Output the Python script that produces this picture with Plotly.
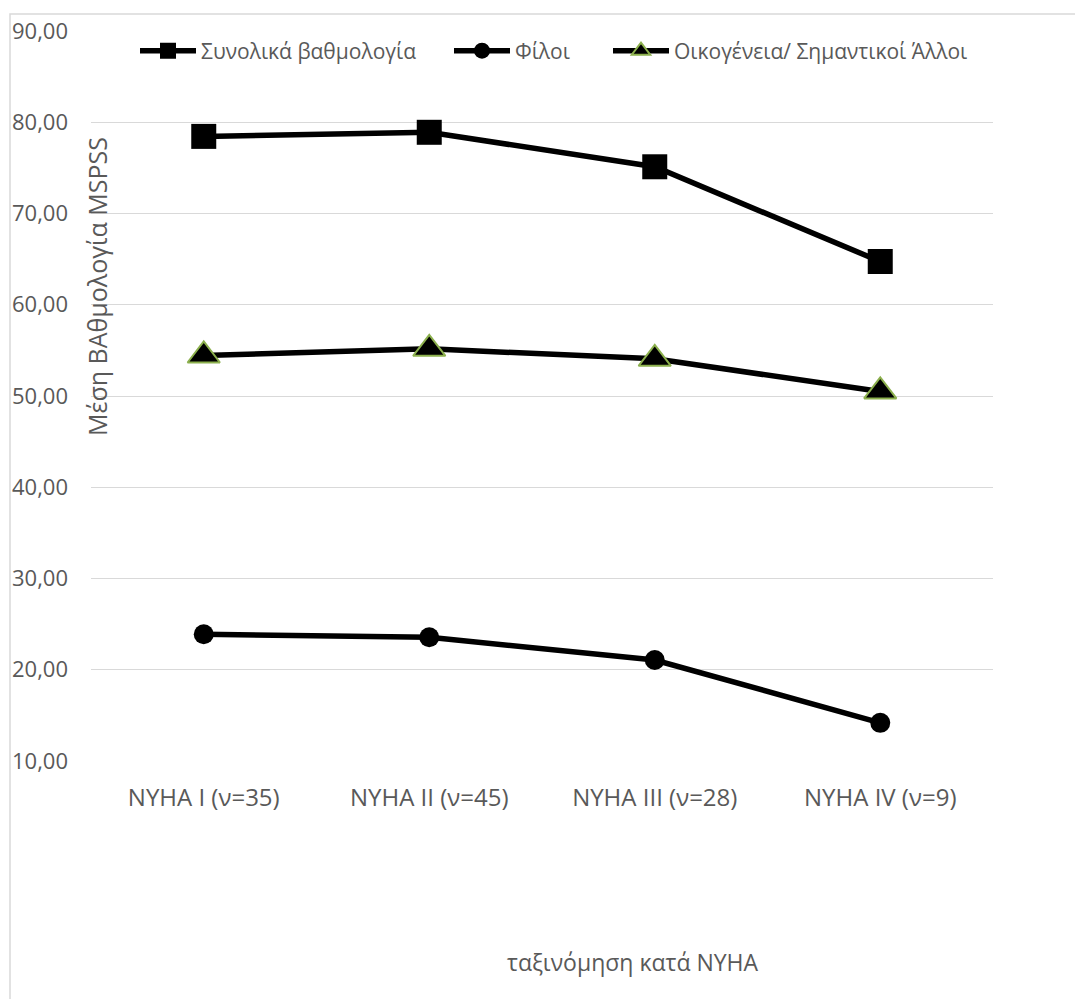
import plotly.graph_objects as go

categories = ["NYHA I (ν=35)", "NYHA II (ν=45)", "NYHA III (ν=28)", "NYHA IV (ν=9)"]
total_scores = [78.45, 78.90, 75.12, 64.74]
friends_scores = [23.89, 23.56, 21.07, 14.18]
family_scores = [54.44, 55.17, 54.08, 50.50]
series_names = ["Συνολικά βαθμολογία", "Φίλοι", "Οικογένεια/ Σημαντικοί Άλλοι"]
y_ticks = [10, 20, 30, 40, 50, 60, 70, 80, 90]

FONT = "Open Sans"
GRAY = "#595959"

L, R, T, B = 91, 82, 31, 238
W, H = 1075, 999
PW, PH = W - L - R, H - T - B

def px_x(px):
    return (px - L) / PW

def px_y(py):
    return (H - B - py) / PH

fig = go.Figure()
fig.add_trace(go.Scatter(
    x=categories, y=total_scores, name=series_names[0], mode="lines+markers",
    line=dict(color="black", width=5.5),
    marker=dict(symbol="square", size=25, color="black"),
    legend="legend", showlegend=True,
))
fig.add_trace(go.Scatter(
    x=categories, y=friends_scores, name=series_names[1], mode="lines+markers",
    line=dict(color="black", width=5.5),
    marker=dict(symbol="circle", size=20, color="black"),
    legend="legend2", showlegend=True,
))
fig.add_trace(go.Scatter(
    x=categories, y=family_scores, name=series_names[2], mode="lines+markers",
    line=dict(color="black", width=5.5),
    marker=dict(symbol="triangle-up", size=28, color="black",
                line=dict(color="#8CB04D", width=2)),
    legend="legend3", showlegend=True,
))

leg_common = dict(orientation="h", yanchor="middle", xanchor="left",
                  font=dict(family=FONT, size=21, color=GRAY),
                  bgcolor="rgba(0,0,0,0)", itemwidth=56)

fig.update_layout(
    width=W, height=H,
    margin=dict(l=L, r=R, t=T, b=B),
    paper_bgcolor="white", plot_bgcolor="white",
    separators=",.",
    showlegend=True,
    font=dict(family=FONT, size=21, color=GRAY),
    legend=dict(x=px_x(135), y=px_y(51), **leg_common),
    legend2=dict(x=px_x(449), y=px_y(51), **leg_common),
    legend3=dict(x=px_x(608), y=px_y(51), **leg_common),
    xaxis=dict(
        type="category", categoryorder="array", categoryarray=categories,
        range=[-0.5, 3.5], showgrid=False, zeroline=False, showline=False,
        tickfont=dict(family=FONT, size=24, color=GRAY),
        ticks="", ticklabelstandoff=20,
    ),
    yaxis=dict(
        range=[10, 90], tickvals=y_ticks, tickformat=".2f",
        showgrid=True, gridcolor="#D9D9D9", gridwidth=1.3,
        zeroline=False, showline=False, ticks="",
        tickfont=dict(family=FONT, size=22, color=GRAY),
        ticklabelstandoff=22,
    ),
    shapes=[dict(type="rect", xref="paper", yref="paper",
                 x0=px_x(10), x1=px_x(1200), y0=px_y(1200), y1=px_y(14),
                 line=dict(color="#D9D9D9", width=1.5), fillcolor="rgba(0,0,0,0)",
                 layer="below")],
    annotations=[
        dict(text="Μέση ΒΑθμολογία MSPSS", xref="paper", yref="paper",
             x=px_x(97), y=px_y(287), textangle=-90, showarrow=False,
             xanchor="center", yanchor="middle",
             font=dict(family=FONT, size=25, color=GRAY)),
        dict(text="ταξινόμηση κατά NYHA", xref="paper", yref="paper",
             x=px_x(633), y=px_y(962), showarrow=False,
             xanchor="center", yanchor="middle",
             font=dict(family=FONT, size=23, color=GRAY)),
    ],
)

fig.write_html("out.html")
